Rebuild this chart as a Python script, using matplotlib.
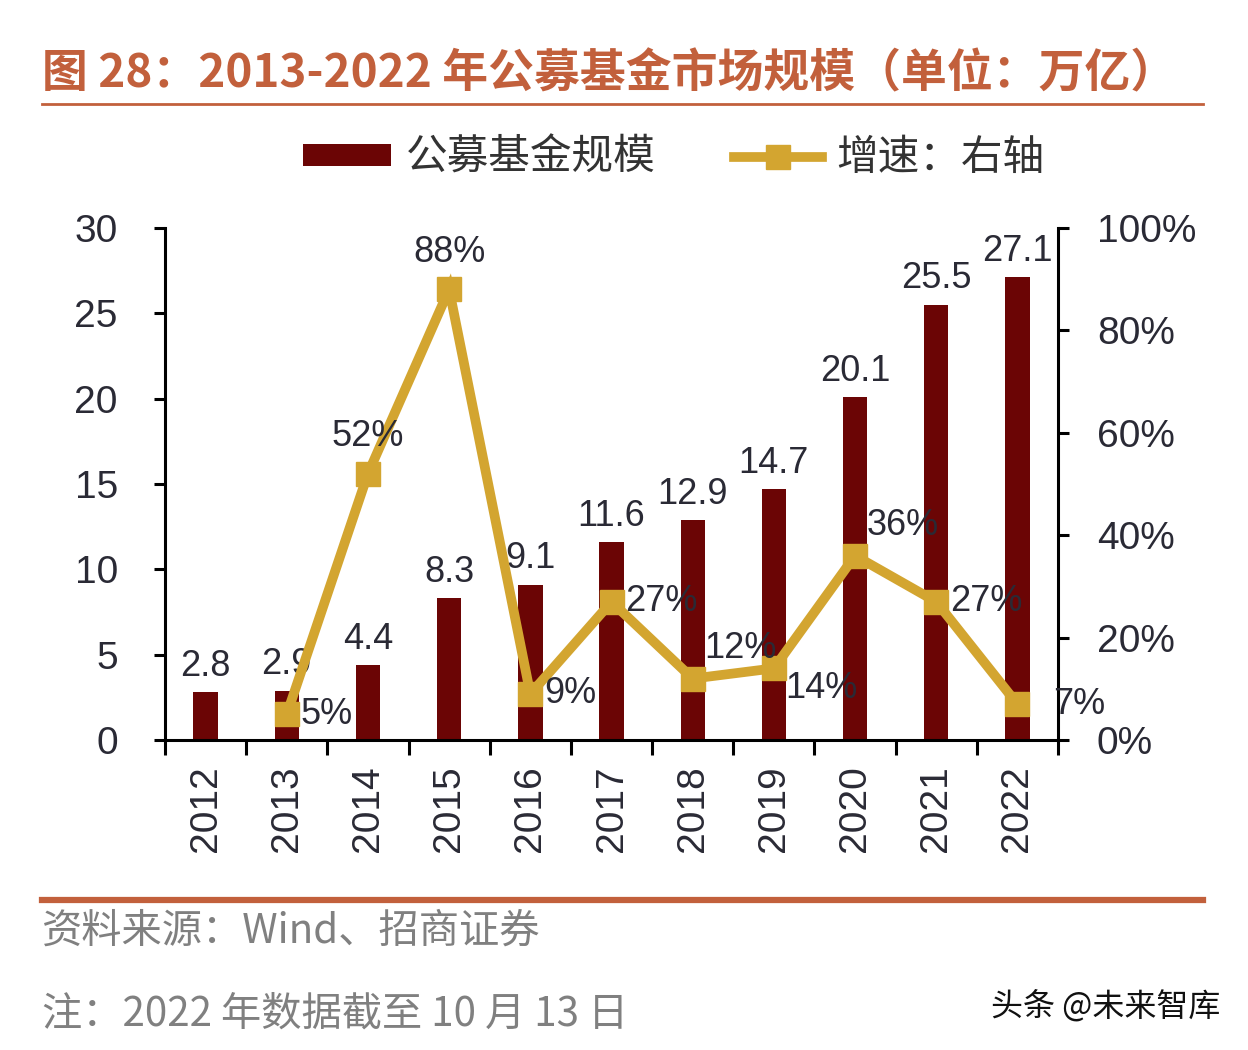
import numpy as np
import matplotlib
matplotlib.use('Agg')
import matplotlib.pyplot as plt
from matplotlib.lines import Line2D
from matplotlib.patches import Patch
from matplotlib.ticker import FuncFormatter, FixedLocator

plt.rcParams['font.family'] = ['Liberation Sans', 'Noto Sans CJK SC', 'DejaVu Sans']

# ---- data ----
years = ['2012', '2013', '2014', '2015', '2016', '2017', '2018', '2019', '2020', '2021', '2022']
scale = [2.8, 2.9, 4.4, 8.3, 9.1, 11.6, 12.9, 14.7, 20.1, 25.5, 27.1]  # 万亿
growth = [5, 52, 88, 9, 27, 12, 14, 36, 27, 7]  # %, 2013-2022
growth_pos = ['right', 'above', 'above', 'right', 'right', 'upright', 'downright', 'upright', 'right', 'farright']

bar_color = '#6b0505'
line_color = '#d3a530'
accent = '#c2603c'
text_color = '#2a2a35'

fig = plt.figure(figsize=(12.48, 10.5), dpi=100)
ax = fig.add_axes([0.1322, 0.2952, 0.7156, 0.4877])
ax2 = ax.twinx()

x = np.arange(len(years))
ax.bar(x, scale, width=0.3, color=bar_color, zorder=2)
for xi, v in zip(x, scale):
    ax.annotate(f'{v}', (xi, v), xytext=(0, 6), textcoords='offset points',
                ha='center', va='bottom', fontsize=26, color=text_color, zorder=5)

gx = x[1:]
ax2.plot(gx, growth, color=line_color, lw=7, marker='s', markersize=17,
         solid_joinstyle='miter', zorder=3)
offsets = {'right': (10, 0, 'left', 'center'),
           'farright': (26, 0, 'left', 'center'),
           'above': (0, 14, 'center', 'bottom'),
           'upright': (8, 9, 'left', 'bottom'),
           'downright': (8, -2, 'left', 'top')}
for xi, v, p in zip(gx, growth, growth_pos):
    dx, dy, ha, va = offsets[p]
    ax2.annotate(f'{v}%', (xi, v), xytext=(dx, dy), textcoords='offset points',
                 ha=ha, va=va, fontsize=26, color=text_color, zorder=6)

ax.set_zorder(1)
ax2.set_zorder(2)
ax2.patch.set_visible(False)

ax.set_xlim(-0.5, len(years) - 0.5)
ax.set_ylim(0, 30)
ax2.set_ylim(0, 100)
ax.set_yticks(np.arange(0, 31, 5))
ax2.set_yticks(np.arange(0, 101, 20))
ax2.yaxis.set_major_formatter(FuncFormatter(lambda v, _: f'{v:.0f}%'))

# boundaries get tick marks, centres get the year labels
ax.xaxis.set_major_locator(FixedLocator(np.arange(-0.5, len(years), 1.0)))
ax.xaxis.set_major_formatter(FuncFormatter(lambda v, _: ''))
ax.xaxis.set_minor_locator(FixedLocator(x))
ax.set_xticklabels(years, minor=True, rotation=90)
ax.tick_params(axis='x', which='major', length=11, width=2.2, direction='out')
ax.tick_params(axis='x', which='minor', length=0, pad=18, labelsize=28, labelcolor=text_color)
ax.tick_params(axis='y', length=8, width=2.2, direction='out', pad=26, labelsize=28,
               labelcolor=text_color)
ax2.tick_params(axis='y', length=8, width=2.2, direction='out', pad=20, labelsize=28,
                labelcolor=text_color)

for a in (ax, ax2):
    a.spines['top'].set_visible(False)
    for s in ('left', 'right', 'bottom'):
        a.spines[s].set_linewidth(2.2)
ax.spines['right'].set_visible(False)
ax2.spines['left'].set_visible(False)
ax2.spines['bottom'].set_visible(False)

# legend
handles = [Patch(facecolor=bar_color, edgecolor='none'),
           Line2D([], [], color=line_color, lw=7, marker='s', markersize=17)]
fig.legend(handles, ['公募基金规模', '增速：右轴'], loc='center', ncol=2,
           bbox_to_anchor=(0.54, 0.849), frameon=False,
           prop={'family': ['Noto Sans CJK SC'], 'size': 30},
           handlelength=2.1, handleheight=0.45, handletextpad=0.35, columnspacing=1.9,
           labelcolor='#333333')

# title and frame lines
fig.text(0.034, 0.929, '图 28：2013-2022 年公募基金市场规模（单位：万亿）',
         fontsize=33, fontweight='bold', color=accent, ha='left', va='center',
         family=['Noto Sans CJK SC'])
fig.add_artist(Line2D([0.034, 0.964], [0.901, 0.901], color=accent, lw=2))
fig.add_artist(Line2D([0.034, 0.964], [0.143, 0.143], color=accent, lw=4.5))

fig.text(0.034, 0.113, '资料来源：Wind、招商证券', fontsize=29, color='#808080',
         ha='left', va='center', family=['Noto Sans CJK SC'])
fig.text(0.034, 0.034, '注：2022 年数据截至 10 月 13 日', fontsize=29, color='#808080',
         ha='left', va='center', family=['Noto Sans CJK SC'])
fig.text(0.978, 0.042, '头条 @未来智库', fontsize=23, color='#111111',
         ha='right', va='center', family=['Noto Sans CJK SC'])

fig.savefig('out.png', dpi=100, facecolor='white')
